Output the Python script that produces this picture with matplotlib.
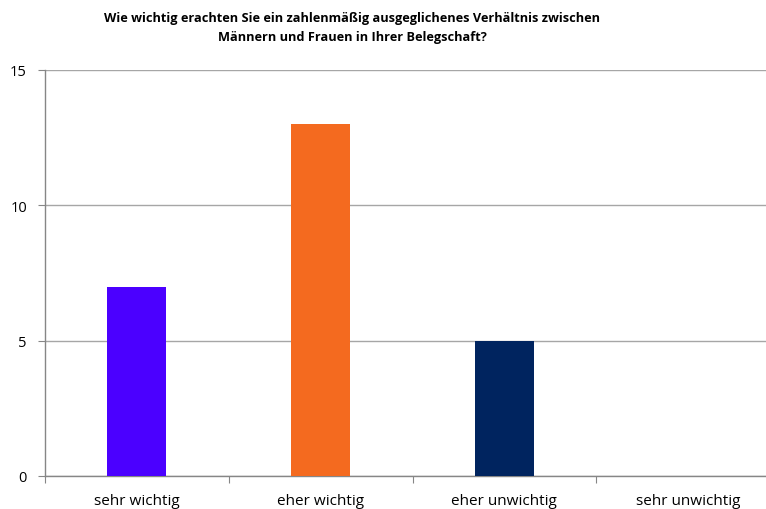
import matplotlib.pyplot as plt

categories = ['sehr wichtig', 'eher wichtig', 'eher unwichtig', 'sehr unwichtig']
counts = [7, 13, 5, 0]
bar_colors = ['#4B00FF', '#F46A1F', '#00245F', '#888888']
y_ticks = [0, 5, 10, 15]
title = ('Wie wichtig erachten Sie ein zahlenmäßig ausgeglichenes Verhältnis zwischen\n'
         'Männern und Frauen in Ihrer Belegschaft?')

plt.rcParams['font.family'] = ['Open Sans', 'DejaVu Sans']

W, H = 766, 510
fig = plt.figure(figsize=(W / 100, H / 100), dpi=100)

# plot area runs past the right edge of the image (cropped like the original)
left, right, top, bottom = 45, 780, 71, 477
ax = fig.add_axes([left / W, 1 - bottom / H, (right - left) / W, (bottom - top) / H])

x = range(len(categories))
ax.bar(x, counts, width=0.32, color=bar_colors, zorder=3)

ax.set_xlim(-0.5, len(categories) - 0.5)
ax.set_ylim(0, 15)
ax.set_yticks(y_ticks)
ax.set_yticklabels([str(t) for t in y_ticks], fontsize=10.5)
ax.yaxis.grid(True, color='#A6A6A6', linewidth=1, zorder=0)

ax.set_xticks([i + 0.5 for i in range(-1, len(categories))], minor=False)
ax.set_xticklabels([])
ax.set_xticks(list(x), minor=True)
ax.set_xticklabels(categories, minor=True, fontsize=11)
ax.tick_params(axis='x', which='minor', length=0, pad=12)
ax.tick_params(axis='x', which='major', length=5, color='#868686')
ax.tick_params(axis='y', length=5, color='#868686', pad=8)

for s in ['top', 'right']:
    ax.spines[s].set_visible(False)
for s in ['left', 'bottom']:
    ax.spines[s].set_color('#868686')
    ax.spines[s].set_linewidth(1)

fig.text(352 / W, 1 - 28 / H, title, ha='center', va='center',
         fontsize=9.2, fontweight='bold', linespacing=1.6)

fig.savefig('out.png', dpi=100)
